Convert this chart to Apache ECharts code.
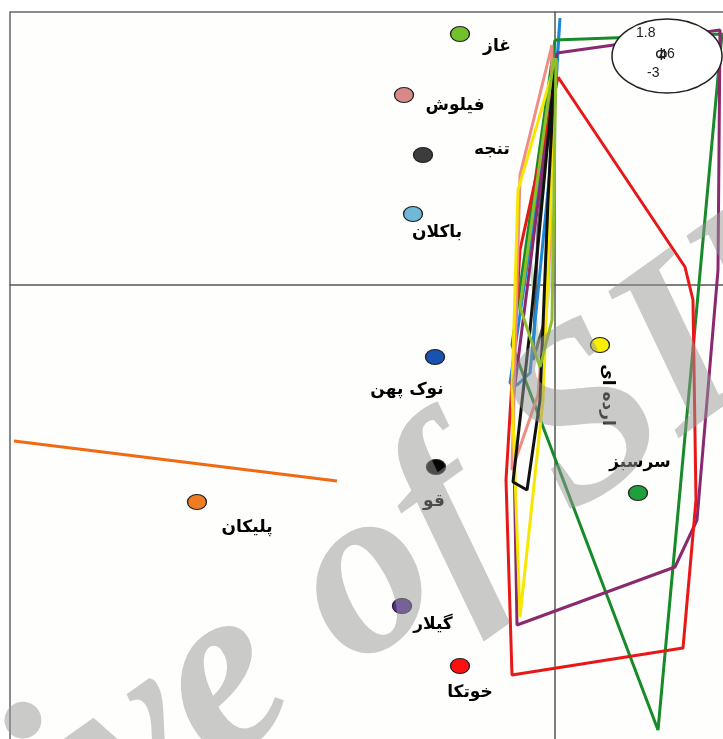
<!DOCTYPE html>
<html><head><meta charset="utf-8">
<script src="https://cdn.jsdelivr.net/npm/echarts@6/dist/echarts.min.js"></script>
<style>html,body{margin:0;padding:0;background:#fff}#c{width:723px;height:739px}</style>
</head><body><div id="c"></div>
<script>
// Species points (x, y in ordination units)
const speciesNames = ['غاز','فیلوش','تنجه','باکلان','نوک پهن','قو','پلیکان','گیلار','خوتکا','ارده ای','سرسبز'];
const speciesX = [-0.95,-1.51,-1.32,-1.42,-1.20,-1.19,-3.58,-1.53,-0.95,0.45,0.83];
const speciesY = [2.51,1.90,1.30,0.71,-0.72,-1.82,-2.17,-3.21,-3.81,-0.60,-2.08];
const speciesColors = ['#72c02c','#d98888','#3c3c3c','#70b8d8','#1a52b0','#050505','#f07c22','#5a2a9a','#ff1010','#f8f000','#20a03c'];

// Envelopes (polygons) per species
const hullBlue = [[0.05,2.67],[0.02,2.25],[-0.45,-0.98],[-0.38,-1.00],[-0.25,-0.88],[-0.03,1.35],[0.05,2.67]];
const hullGreen = [[0.00,2.45],[1.67,2.51],[1.63,2.08],[1.03,-4.45],[-0.43,-0.60],[0.00,2.45]];
const hullPurple = [[0.02,2.32],[1.65,2.55],[1.63,0.15],[1.42,-2.35],[1.20,-2.82],[-0.38,-3.40],[-0.42,-1.15],[0.02,2.32]];
const hullRed = [[0.03,2.08],[1.30,0.18],[1.38,-0.15],[1.41,-2.15],[1.28,-3.63],[-0.43,-3.90],[-0.49,-1.95],[-0.35,0.35],[0.03,2.08]];
const hullYellow = [[0.01,2.25],[-0.37,0.95],[-0.43,-1.05],[-0.35,-3.32],[-0.12,-1.15],[0.01,2.25]];
const hullPink = [[-0.03,2.40],[-0.35,1.10],[-0.43,-1.85],[-0.17,-1.10],[-0.05,0.35],[-0.03,2.40]];
const hullBlack = [[0.00,2.20],[-0.07,0.85],[-0.15,-1.15],[-0.28,-2.05],[-0.42,-1.97],[-0.25,-0.45],[0.00,2.20]];
const hullGray = [[-0.02,2.05],[-0.17,0.55],[-0.22,-0.75],[-0.10,-0.35],[-0.02,2.05]];
const hullPale = [[-0.03,2.25],[-0.25,0.35],[-0.15,-0.85],[-0.05,0.05],[-0.03,2.25]];
const hullLime = [[-0.01,2.27],[-0.35,-0.22],[-0.15,-0.82],[-0.03,-0.35],[0.01,2.27]];
const lineOrange = [[-5.41,-1.56],[-2.18,-1.96]];

// Inset ellipse annotation
const insetCenter = [1.12, 2.29];
const insetTexts = ['1.8','-3','6','4','Φ'];

const hulls = [
  {d: hullPale, c: '#c5dccb'},
  {d: hullGray, c: '#5a5a5a'},
  {d: hullBlue, c: '#1f88d6'},
  {d: hullGreen, c: '#178a2a'},
  {d: hullPurple, c: '#8a2870'},
  {d: hullRed, c: '#e81818'},
  {d: hullPink, c: '#f08c84'},
  {d: hullYellow, c: '#f6e600'},
  {d: hullBlack, c: '#111111'},
  {d: hullLime, c: '#8ebf28'},
  {d: lineOrange, c: '#f06a14'}
];

// label offsets; the rotated one is expressed in its rotated frame
const labelOffsets = [[37,13],[51,11],[69,-5],[24,19],[-28,33],[-2,35],[50,26],[31,19],[10,27],[50,-7],[2,-30]];

const chart = echarts.init(document.getElementById('c'));
const series = hulls.map(h => ({
  type: 'line', data: h.d, symbol: 'none', silent: true, animation: false,
  lineStyle: {color: h.c, width: 3}, z: 2
}));
series.push({
  type: 'scatter', animation: false, z: 5,
  data: speciesNames.map((n, i) => ({
    value: [speciesX[i], speciesY[i]], name: n,
    itemStyle: {color: speciesColors[i], borderColor: '#222', borderWidth: 1.2, opacity: 1},
    label: {
      show: true, formatter: n, position: 'inside', offset: labelOffsets[i],
      rotate: i === 9 ? -90 : 0,
      color: '#000', fontSize: 17, fontWeight: 'bold', fontFamily: 'DejaVu Sans',
      textBorderWidth: 0
    }
  })),
  symbol: 'circle', symbolSize: [19, 15]
});

chart.setOption({
  animation: false,
  grid: {left: 10, top: 12, width: 900, height: 900, outerBoundsMode: 'none', containLabel: false, show: true, borderColor: '#666', borderWidth: 1.5, backgroundColor: '#fefefc'},
  xAxis: {type: 'value', min: -5.45, max: 3.55, axisLine: {onZero: true, lineStyle: {color: '#555', width: 1.5}}, axisTick: {show: false}, axisLabel: {show: false}, splitLine: {show: false}},
  yAxis: {type: 'value', min: -6.27, max: 2.73, axisLine: {onZero: true, lineStyle: {color: '#555', width: 1.5}}, axisTick: {show: false}, axisLabel: {show: false}, splitLine: {show: false}},
  series: series
});

const p = chart.convertToPixel({gridIndex: 0}, insetCenter);
const txt = (s, dx, dy, fs) => ({type: 'text', x: p[0] + dx, y: p[1] + dy, style: {text: s, fontSize: fs || 14, fill: '#222', fontFamily: 'Liberation Sans', textVerticalAlign: 'middle'}, z: 11});
chart.setOption({
  graphic: [
    {type: 'ellipse', shape: {cx: p[0], cy: p[1], rx: 55, ry: 37}, style: {fill: '#fff', stroke: '#222', lineWidth: 1.5}, z: 10},
    txt(insetTexts[0], -31, -23),
    txt(insetTexts[1], -20, 17),
    txt(insetTexts[2], 0, -2),
    txt(insetTexts[3], -8, -1),
    txt(insetTexts[4], -12, 0, 16),
    {type: 'text', x: 245, y: 670, rotation: 0.62, style: {text: 'Archive of SID', fontSize: 245, fontWeight: 'bold', fontStyle: 'italic', fontFamily: 'Liberation Serif', fill: 'rgba(150,150,150,0.5)', textAlign: 'center', textVerticalAlign: 'middle'}, z: 20, silent: true}
  ]
});
</script></body></html>
